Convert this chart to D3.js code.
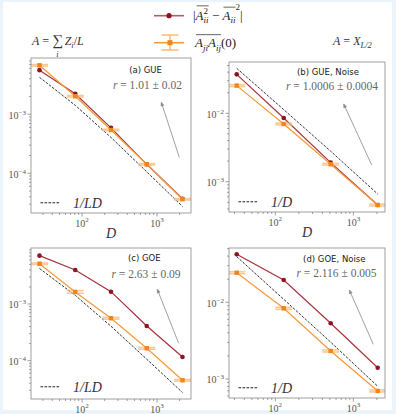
<!DOCTYPE html>
<html><head><meta charset="utf-8">
<script src="https://cdn.jsdelivr.net/npm/d3@7"></script>
<style>html,body{margin:0;padding:0;background:#eaf4fa;} svg{display:block} text{white-space:pre}</style>
</head><body><svg id="c" width="396" height="414"></svg>
<script>
// ---------------- data ----------------
const D_GUE = [27, 81, 243, 729, 2187];
const D_NOISE = [32, 128, 512, 2048];

const a_red    = [5.6e-3, 2.23e-3, 5.9e-4, 1.42e-4, 3.7e-5];
const a_orange = [6.76e-3, 2.02e-3, 5.42e-4, 1.42e-4, 3.63e-5];
const a_err    = [2.0e-4, 6e-5, 1.6e-5, 4e-6, 1e-6];
const a_dash   = [4.24e-3, 1.42e-3, 4.05e-4, 1.06e-4, 2.74e-5];

const b_red    = [0.0371, 8.54e-3, 1.90e-3, 4.56e-4];
const b_orange = [0.0254, 6.98e-3, 1.80e-3, 4.56e-4];
const b_err    = [8e-4, 2e-4, 5e-5, 1.4e-5];
const b_dash   = [0.0455, 0.01133, 2.79e-3, 6.6e-4];

const c_red    = [7.13e-3, 3.98e-3, 1.65e-3, 4.09e-4, 1.16e-4];
const c_orange = [5.14e-3, 1.63e-3, 5.6e-4, 1.65e-4, 4.5e-5];
const c_err    = [1.5e-4, 8.5e-5, 2e-5, 6e-6, 1.5e-6];
const c_dash   = [4.24e-3, 1.42e-3, 4.05e-4, 1.06e-4, 2.74e-5];

const d_red    = [0.0423, 0.0195, 5.32e-3, 1.40e-3];
const d_orange = [0.0243, 8.35e-3, 2.32e-3, 6.98e-4];
const d_err    = [7e-4, 2.5e-4, 7e-5, 2e-5];
const d_dash   = [0.0394, 0.01094, 3.02e-3, 8.03e-4];

const titles = ['(a) GUE', '(b) GUE, Noise', '(c) GOE', '(d) GOE, Noise'];
const rTexts = ['1.01 \u00b1 0.02', '1.0006 \u00b1 0.0004', '2.63 \u00b1 0.09', '2.116 \u00b1 0.005'];
const dashLabels = ['LD', 'D', 'LD', 'D'];
// arrow annotations in data units: [D_start, y_start, D_end, y_end]
const arrows = [
  [1982, 1.87e-4, 1140, 1.6e-3],
  [1717, 1.75e-3, 751, 0.01368],
  [1945, 2.02e-4, 1008, 1.82e-3],
  [1799, 2.83e-3, 887, 0.01446]
];

// ---------------- layout ----------------
const panels = [
  {D: D_GUE, red: a_red, orange: a_orange, err: a_err, dash: a_dash,
   x: [31, 191], y: [213, 58], xd: [1.318, 3.4533], yd: [-4.673, -2.046],
   title: [145.5, 70], rpos: [147.4, 85.3], leg: 202.7, xlabel: true},
  {D: D_NOISE, red: b_red, orange: b_orange, err: b_err, dash: b_dash,
   x: [229, 385], y: [212, 62], xd: [1.4065, 3.4048], yd: [-3.443, -1.25],
   title: [328, 71.7], rpos: [332, 86], leg: 201.7, xlabel: true},
  {D: D_GUE, red: c_red, orange: c_orange, err: c_err, dash: c_dash,
   x: [31, 191], y: [399, 248], xd: [1.318, 3.4533], yd: [-4.677, -2.0115],
   title: [144.3, 258.3], rpos: [146, 274], leg: 386.7, xlabel: false},
  {D: D_NOISE, red: d_red, orange: d_orange, err: d_err, dash: d_dash,
   x: [229, 385], y: [398, 248], xd: [1.4065, 3.4048], yd: [-3.248, -1.292],
   title: [334.3, 259.3], rpos: [336.5, 273], leg: 387.7, xlabel: false}
];

const SERIF = "'Liberation Serif', 'DejaVu Serif', serif";
const SANS = "'DejaVu Sans', sans-serif";
const RED_LINE = '#a8323e', RED_MK = '#8b1520';
const OR_LINE = '#f59a35', OR_MK = '#f28418', OR_ERR = '#f8b978';

const svg = d3.select('#c');
svg.append('rect').attr('x', 3).attr('y', 2).attr('width', 389).attr('height', 408).attr('fill', '#fff');

// rich text layout helper
function rich(parent, x, y, pieces, opt) {
  const size = opt.size, color = opt.color || '#222', fam = opt.family || SERIF;
  const g = parent.append('g');
  let cx = 0; const overs = []; let ovStart = 0;
  function put(txt, px, py, sz, it, anchor) {
    const t = g.append('text').attr('x', px).attr('y', py).text(txt)
      .attr('font-family', fam).attr('font-size', sz).attr('xml:space', 'preserve')
      .style('white-space', 'pre')
      .attr('font-style', it ? 'italic' : 'normal').attr('fill', color);
    if (anchor) t.attr('text-anchor', anchor);
    return t.node().getComputedTextLength();
  }
  pieces.forEach(p => {
    if (p.ov === 'start') { ovStart = cx; return; }
    if (p.ov === 'end') { overs.push([ovStart, cx, p.h || 0.95]); return; }
    if (p.sp) { cx += p.sp * size; return; }
    if (p.stack) {
      const s = size * 0.7;
      const w1 = p.stack[0] ? put(p.stack[0], cx, -size * 0.45, s, p.it1) : 0;
      const w2 = p.stack[1] ? put(p.stack[1], cx, size * 0.3, s, p.it2) : 0;
      cx += Math.max(w1, w2); return;
    }
    const small = p.sup || p.sub;
    const sz = small ? size * 0.7 : size * (p.sc || 1);
    const dy = p.sup ? -size * (p.supH || 0.42) : p.sub ? size * 0.3 : (p.dy || 0) * size;
    const w = put(p.t, cx, dy, sz, p.it);
    if (p.under) put(p.under, cx + w / 2, size * 1.0, size * 0.7, true, 'middle');
    cx += w;
  });
  overs.forEach(([a, b, h]) => g.append('line').attr('x1', a + 1).attr('x2', b)
    .attr('y1', -size * h).attr('y2', -size * h).attr('stroke', color).attr('stroke-width', 0.7));
  const shift = opt.anchor === 'middle' ? -cx / 2 : opt.anchor === 'end' ? -cx : 0;
  g.attr('transform', `translate(${x + shift},${y})`);
  return cx;
}

panels.forEach((P, i) => {
  const xs = d3.scaleLog().domain([10 ** P.xd[0], 10 ** P.xd[1]]).range(P.x);
  const ys = d3.scaleLog().domain([10 ** P.yd[0], 10 ** P.yd[1]]).range(P.y);
  const g = svg.append('g');
  const clipId = 'clip' + i;
  g.append('clipPath').attr('id', clipId).append('rect')
    .attr('x', P.x[0]).attr('y', P.y[1]).attr('width', P.x[1] - P.x[0]).attr('height', P.y[0] - P.y[1]);

  // ticks
  const tickCol = '#777';
  const xMin = Math.floor(P.xd[0]), xMax = Math.ceil(P.xd[1]);
  for (let n = xMin; n <= xMax; n++) {
    for (let k = 1; k <= 9; k++) {
      const v = k * 10 ** n;
      if (v < 10 ** P.xd[0] || v > 10 ** P.xd[1]) continue;
      const px = xs(v), len = k === 1 ? 3.5 : 2;
      g.append('line').attr('x1', px).attr('x2', px).attr('y1', P.y[0]).attr('y2', P.y[0] + len)
        .attr('stroke', tickCol).attr('stroke-width', 0.7);
      if (k === 1) rich(g, px, P.y[0] + 13.5, [{t: '10'}, {t: String(n), sup: true}],
        {size: 10, color: '#555', anchor: 'middle'});
    }
  }
  const yMin = Math.floor(P.yd[0]), yMax = Math.ceil(P.yd[1]);
  for (let n = yMin; n <= yMax; n++) {
    for (let k = 1; k <= 9; k++) {
      const v = k * 10 ** n;
      if (v < 10 ** P.yd[0] || v > 10 ** P.yd[1] * 1.0001) continue;
      const py = ys(v), len = k === 1 ? 3.5 : 2;
      g.append('line').attr('x1', P.x[0] - len).attr('x2', P.x[0]).attr('y1', py).attr('y2', py)
        .attr('stroke', tickCol).attr('stroke-width', 0.7);
      if (k === 1) rich(g, P.x[0] - 5, py + 4.5, [{t: '10'}, {t: '\u2212' + String(-n), sup: true}],
        {size: 10, color: '#555', anchor: 'end'});
    }
  }

  const plot = g.append('g').attr('clip-path', `url(#${clipId})`);
  const line = d3.line().x((d, j) => xs(P.D[j])).y(d => ys(d));

  // 1/LD dashed
  plot.append('path').attr('d', line(P.dash)).attr('fill', 'none')
    .attr('stroke', '#333').attr('stroke-width', 1).attr('stroke-dasharray', '2.6,1.4');

  // red series
  plot.append('path').attr('d', line(P.red)).attr('fill', 'none')
    .attr('stroke', RED_LINE).attr('stroke-width', 1.2);
  plot.selectAll('.rm').data(P.red).enter().append('circle')
    .attr('cx', (d, j) => xs(P.D[j])).attr('cy', d => ys(d)).attr('r', 2.3).attr('fill', RED_MK);

  // orange series
  plot.append('path').attr('d', line(P.orange)).attr('fill', 'none')
    .attr('stroke', OR_LINE).attr('stroke-width', 1.2);
  P.orange.forEach((v, j) => {
    const px = xs(P.D[j]);
    [v - P.err[j], v + P.err[j]].forEach(e => {
      plot.append('line').attr('x1', px - 8.5).attr('x2', px + 8.5).attr('y1', ys(e)).attr('y2', ys(e))
        .attr('stroke', OR_ERR).attr('stroke-width', 1.6).attr('opacity', 0.75);
    });
    plot.append('line').attr('x1', px).attr('x2', px).attr('y1', ys(v - P.err[j])).attr('y2', ys(v + P.err[j]))
      .attr('stroke', OR_ERR).attr('stroke-width', 1.6).attr('opacity', 0.75);
  });
  plot.selectAll('.om').data(P.orange).enter().append('rect')
    .attr('x', (d, j) => xs(P.D[j]) - 2.2).attr('y', d => ys(d) - 2.2)
    .attr('width', 4.4).attr('height', 4.4).attr('fill', OR_MK);

  // arrow annotation
  const A = arrows[i];
  const x1 = xs(A[0]), y1 = ys(A[1]), x2 = xs(A[2]), y2 = ys(A[3]);
  g.append('line').attr('x1', x1).attr('y1', y1).attr('x2', x2).attr('y2', y2)
    .attr('stroke', '#888').attr('stroke-width', 0.8);
  const ang = Math.atan2(y2 - y1, x2 - x1), hl = 4, ha = 0.4;
  g.append('path').attr('d', `M${x2 - hl * Math.cos(ang - ha)},${y2 - hl * Math.sin(ang - ha)}L${x2},${y2}L${x2 - hl * Math.cos(ang + ha)},${y2 - hl * Math.sin(ang + ha)}Z`)
    .attr('fill', '#888').attr('stroke', '#888').attr('stroke-width', 0.5);

  // frame
  g.append('rect').attr('x', P.x[0]).attr('y', P.y[1]).attr('width', P.x[1] - P.x[0]).attr('height', P.y[0] - P.y[1])
    .attr('fill', 'none').attr('stroke', '#888').attr('stroke-width', 0.8);

  // title & r
  g.append('text').attr('x', P.title[0]).attr('y', P.title[1] + 3).attr('text-anchor', 'middle')
    .attr('font-family', SANS).attr('font-size', 8.5).attr('fill', '#222').text(titles[i]);
  rich(g, P.rpos[0], P.rpos[1] + 4, [{t: 'r', it: true}, {t: ' = ' + rTexts[i]}],
    {size: 11.5, color: '#666', anchor: 'middle'});

  // inner legend
  g.append('line').attr('x1', P.x[0] + 9.5).attr('x2', P.x[0] + 29).attr('y1', P.leg).attr('y2', P.leg)
    .attr('stroke', '#222').attr('stroke-width', 1.1).attr('stroke-dasharray', '2.6,1.4');
  rich(g, P.x[0] + 42, P.leg + 5, [{t: '1/' + dashLabels[i], it: true}], {size: 14, color: '#333'});

  if (P.xlabel) rich(g, (P.x[0] + P.x[1]) / 2, P.y[0] + 25, [{t: 'D', it: true}], {size: 14, color: '#333', anchor: 'middle'});
});

// ---------------- header ----------------
const hdr = svg.append('g');
rich(hdr, 32, 44.5, [{t: 'A', it: true}, {t: ' = '}, {t: '\u2211', sc: 1.25, dy: 0.08, under: 'i'}, {sp: 0.15},
  {t: 'Z', it: true}, {t: 'i', it: true, sub: true}, {t: '/'}, {t: 'L', it: true}], {size: 12, color: '#333'});
rich(hdr, 333, 44.5, [{t: 'A', it: true}, {t: ' = '}, {t: 'X', it: true}, {t: 'L/2', it: true, sub: true}],
  {size: 12, color: '#333'});

// legend
hdr.append('line').attr('x1', 154).attr('x2', 184).attr('y1', 15.7).attr('y2', 15.7)
  .attr('stroke', RED_LINE).attr('stroke-width', 1.6).attr('opacity', 0.8);
hdr.append('circle').attr('cx', 169).attr('cy', 15.7).attr('r', 2.6).attr('fill', RED_MK);
hdr.append('line').attr('x1', 154).attr('x2', 184).attr('y1', 42.7).attr('y2', 42.7)
  .attr('stroke', OR_LINE).attr('stroke-width', 1.6);
[35, 50].forEach(yy => hdr.append('line').attr('x1', 161.5).attr('x2', 178.5).attr('y1', yy).attr('y2', yy)
  .attr('stroke', OR_ERR).attr('stroke-width', 1.5));
hdr.append('line').attr('x1', 170).attr('x2', 170).attr('y1', 35).attr('y2', 50)
  .attr('stroke', OR_ERR).attr('stroke-width', 1.5);
hdr.append('rect').attr('x', 167.5).attr('y', 40.2).attr('width', 5).attr('height', 5).attr('fill', OR_MK);

rich(hdr, 193, 19.5, [{t: '|'}, {ov: 'start'}, {t: 'A', it: true}, {stack: ['2', 'ii'], it2: true}, {ov: 'end', h: 1.05},
  {t: ' \u2212 '}, {ov: 'start'}, {t: 'A', it: true}, {t: 'ii', it: true, sub: true}, {ov: 'end', h: 0.95},
  {t: '2', sup: true, supH: 0.75}, {t: '|'}], {size: 13, color: '#222'});
rich(hdr, 195, 47, [{ov: 'start'}, {t: 'A', it: true}, {t: 'ji', it: true, sub: true}, {t: 'A', it: true},
  {t: 'ij', it: true, sub: true}, {ov: 'end', h: 0.95}, {t: '(0)'}], {size: 13, color: '#222'});
</script></body></html>
